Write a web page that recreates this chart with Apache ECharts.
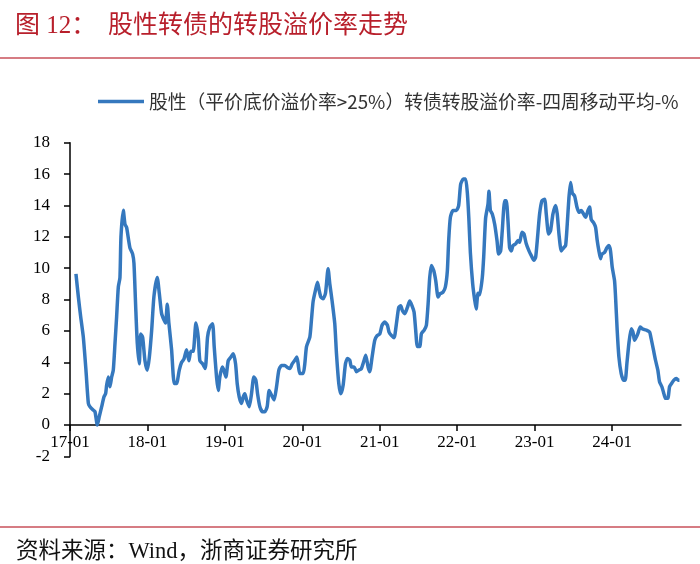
<!DOCTYPE html>
<html>
<head>
<meta charset="utf-8">
<script src="https://cdn.jsdelivr.net/npm/echarts@6/dist/echarts.min.js"></script>
<style>
html,body{margin:0;padding:0;background:#ffffff;}
#chart{width:700px;height:564px;}
</style>
</head>
<body>
<div id="chart"></div>
<script>
// ---- data (x = decimal year, 17.0 = 2017-01) ----
const xYears = [
17.077,17.108,17.138,17.172,17.206,17.237,17.258,17.301,17.323,17.353,17.378,17.409,17.439,17.46,17.473,17.495,17.516,17.538,17.559,17.581,17.602,17.624,17.645,17.658,17.688,17.71,17.731,17.774,17.809,17.826,17.847,17.869,17.895,17.912,17.938,17.968,17.998,
18.024,18.054,18.084,18.127,18.153,18.183,18.213,18.234,18.256,18.277,18.312,18.346,18.376,18.411,18.441,18.471,18.505,18.535,18.561,18.591,18.626,18.656,18.677,18.712,18.746,18.776,18.806,18.841,18.862,18.892,18.914,18.935,18.966,18.987,
19.013,19.043,19.073,19.108,19.138,19.159,19.185,19.215,19.237,19.258,19.28,19.314,19.344,19.374,19.4,19.422,19.452,19.486,19.516,19.546,19.572,19.602,19.636,19.667,19.697,19.731,19.774,19.808,19.839,19.869,19.903,19.929,19.946,19.968,
20.011,20.032,20.054,20.097,20.118,20.14,20.17,20.196,20.217,20.239,20.269,20.299,20.333,20.355,20.385,20.419,20.441,20.471,20.497,20.527,20.557,20.583,20.613,20.634,20.669,20.699,20.729,20.763,20.798,20.819,20.849,20.871,20.901,20.935,20.966,
21.0,21.03,21.064,21.099,21.12,21.15,21.185,21.215,21.245,21.271,21.292,21.323,21.357,21.387,21.417,21.443,21.464,21.486,21.516,21.538,21.572,21.602,21.624,21.645,21.667,21.697,21.723,21.753,21.778,21.817,21.847,21.873,21.89,21.912,21.946,21.989,
22.019,22.045,22.079,22.109,22.131,22.15,22.17,22.2,22.225,22.245,22.269,22.29,22.324,22.342,22.367,22.398,22.41,22.428,22.453,22.484,22.514,22.535,22.561,22.582,22.613,22.634,22.656,22.677,22.699,22.72,22.755,22.785,22.806,22.836,22.862,22.892,22.927,22.957,22.991,
23.013,23.034,23.064,23.094,23.129,23.15,23.18,23.206,23.236,23.271,23.292,23.314,23.344,23.374,23.4,23.421,23.443,23.464,23.486,23.516,23.546,23.572,23.602,23.632,23.658,23.688,23.71,23.731,23.761,23.787,23.808,23.83,23.851,23.869,23.903,23.933,23.959,23.98,
24.002,24.032,24.045,24.066,24.088,24.118,24.148,24.17,24.191,24.217,24.247,24.269,24.29,24.312,24.333,24.363,24.389,24.419,24.449,24.484,24.505,24.535,24.561,24.591,24.613,24.643,24.669,24.69,24.72,24.742,24.768,24.798,24.828,24.854,24.87
];
const premium = [
9.64,8.16,6.9,5.6,3.5,1.38,1.17,0.95,0.85,0.0,0.53,1.17,1.8,2.0,2.54,3.07,2.44,3.07,3.5,5.2,6.9,8.8,9.4,12.0,13.7,12.8,12.6,11.3,10.9,10.3,7.7,5.2,3.9,5.8,5.6,4.1,3.5,
4.3,6.0,8.2,9.4,8.4,7.1,6.7,6.5,7.7,6.5,4.8,2.65,2.65,3.5,4.0,4.2,4.8,4.1,4.7,4.7,6.5,5.6,4.1,3.9,3.6,5.6,6.25,6.46,5.0,3.07,2.2,3.07,3.7,3.5,
3.07,4.1,4.3,4.55,3.9,2.65,1.8,1.38,1.8,2.0,1.6,1.17,2.0,3.07,2.86,2.0,1.17,0.85,0.85,1.17,2.2,1.9,1.6,2.44,3.5,3.8,3.8,3.67,3.6,3.9,4.13,4.34,3.9,3.28,
3.28,3.9,5.0,5.6,6.7,7.9,8.6,9.1,8.6,8.16,8.05,8.4,9.96,9.0,7.9,6.46,4.55,2.65,2.0,2.54,3.9,4.24,4.13,3.7,3.7,3.4,3.5,3.6,4.13,4.45,3.7,3.4,4.34,5.4,5.7,
5.8,6.36,6.57,6.36,5.93,5.72,5.57,6.46,7.5,7.6,7.3,7.1,7.5,7.9,7.6,7.2,6.04,5.0,5.0,5.83,6.04,6.36,7.7,9.4,10.17,9.85,9.2,8.16,8.37,8.47,8.8,9.85,11.76,13.24,13.67,13.67,
14.0,15.36,15.68,15.68,14.8,13.2,11.0,9.0,8.0,7.4,8.4,8.3,9.4,10.7,13.2,14.1,14.9,13.7,13.45,12.8,11.76,10.9,11.1,12.4,14.3,14.3,13.0,11.3,11.1,11.44,11.55,11.76,11.65,12.29,12.18,11.55,11.1,10.8,10.5,
10.7,11.76,13.45,14.3,14.4,13.45,12.18,12.4,13.45,14.0,13.45,12.18,11.1,11.3,11.44,12.8,14.5,15.47,14.8,14.6,13.9,13.56,13.67,13.45,13.24,13.67,13.9,13.1,12.9,12.6,11.76,11.1,10.6,10.9,11.0,11.3,11.44,11.1,
10.06,9.2,8.16,6.04,4.34,3.28,2.86,2.86,3.9,5.2,6.14,5.93,5.4,5.6,5.83,6.25,6.14,6.08,6.04,5.93,5.5,4.77,4.13,3.5,2.75,2.44,2.0,1.7,1.7,2.44,2.65,2.86,2.97,2.86,2.86
];
const tickYears = [17, 18, 19, 20, 21, 22, 23, 24];
const tickLabels = ['17-01', '18-01', '19-01', '20-01', '21-01', '22-01', '23-01', '24-01'];
const seriesName = '股性（平价底价溢价率>25%）转债转股溢价率-四周移动平均-%';
const titleNo = '图 12：';
const titleText = '股性转债的转股溢价率走势';
const sourceText = '资料来源：Wind，浙商证券研究所';

const lineData = xYears.map((x, i) => [x, premium[i]]);
const serif = "'Liberation Serif','Noto Sans CJK SC',serif";
const titleRed = '#B81F2B';
const ruleRed = '#C9505A';

const chart = echarts.init(document.getElementById('chart'), null, {renderer: 'canvas'});
chart.setOption({
  backgroundColor: '#ffffff',
  animation: false,
  graphic: [
    {type: 'text', x: 15, y: 26, style: {text: titleNo, font: "25px " + serif, fill: titleRed, verticalAlign: 'middle'}},
    {type: 'text', x: 108, y: 26, style: {text: titleText, font: "25px " + serif, fill: titleRed, verticalAlign: 'middle'}},
    {type: 'line', shape: {x1: 0, y1: 58, x2: 700, y2: 58}, style: {stroke: ruleRed, lineWidth: 1.5}},
    {type: 'line', shape: {x1: 0, y1: 527, x2: 700, y2: 527}, style: {stroke: ruleRed, lineWidth: 1.5}},
    {type: 'text', x: 16, y: 552, style: {text: sourceText, font: "22.5px " + serif, fill: '#111111', verticalAlign: 'middle'}}
  ],
  legend: {
    left: 93, top: 87,
    icon: 'rect', itemWidth: 46, itemHeight: 3.5, itemGap: 4,
    textStyle: {fontFamily: "'Noto Sans CJK SC'", fontSize: 18.8, color: '#333333', padding: [0, 0, 0, 0]},
    data: [seriesName]
  },
  grid: {left: 70, right: 19, top: 142.7, bottom: 107.6, containLabel: false},
  xAxis: {
    type: 'value', min: 17, max: 24.89,
    axisLine: {onZero: true, lineStyle: {color: '#000000', width: 1.5}},
    axisTick: {show: true, length: 6, lineStyle: {color: '#000000', width: 1.5}, customValues: tickYears},
    axisLabel: {
      customValues: tickYears,
      formatter: v => tickLabels[tickYears.indexOf(Math.round(v))] || '',
      fontFamily: serif, fontSize: 17, color: '#000000', margin: -22
    },
    splitLine: {show: false}
  },
  yAxis: {
    type: 'value', min: -2, max: 18, interval: 2,
    axisLine: {show: true, lineStyle: {color: '#000000', width: 1.5}},
    axisTick: {show: true, length: 6, lineStyle: {color: '#000000', width: 1.5}},
    axisLabel: {fontFamily: serif, fontSize: 17, color: '#000000', margin: 20},
    splitLine: {show: false}
  },
  series: [{
    name: seriesName,
    type: 'line',
    data: lineData,
    showSymbol: false,
    smooth: 0.2,
    lineStyle: {color: '#3578BE', width: 3.5},
    itemStyle: {color: '#3578BE'}
  }]
});
</script>
</body>
</html>
